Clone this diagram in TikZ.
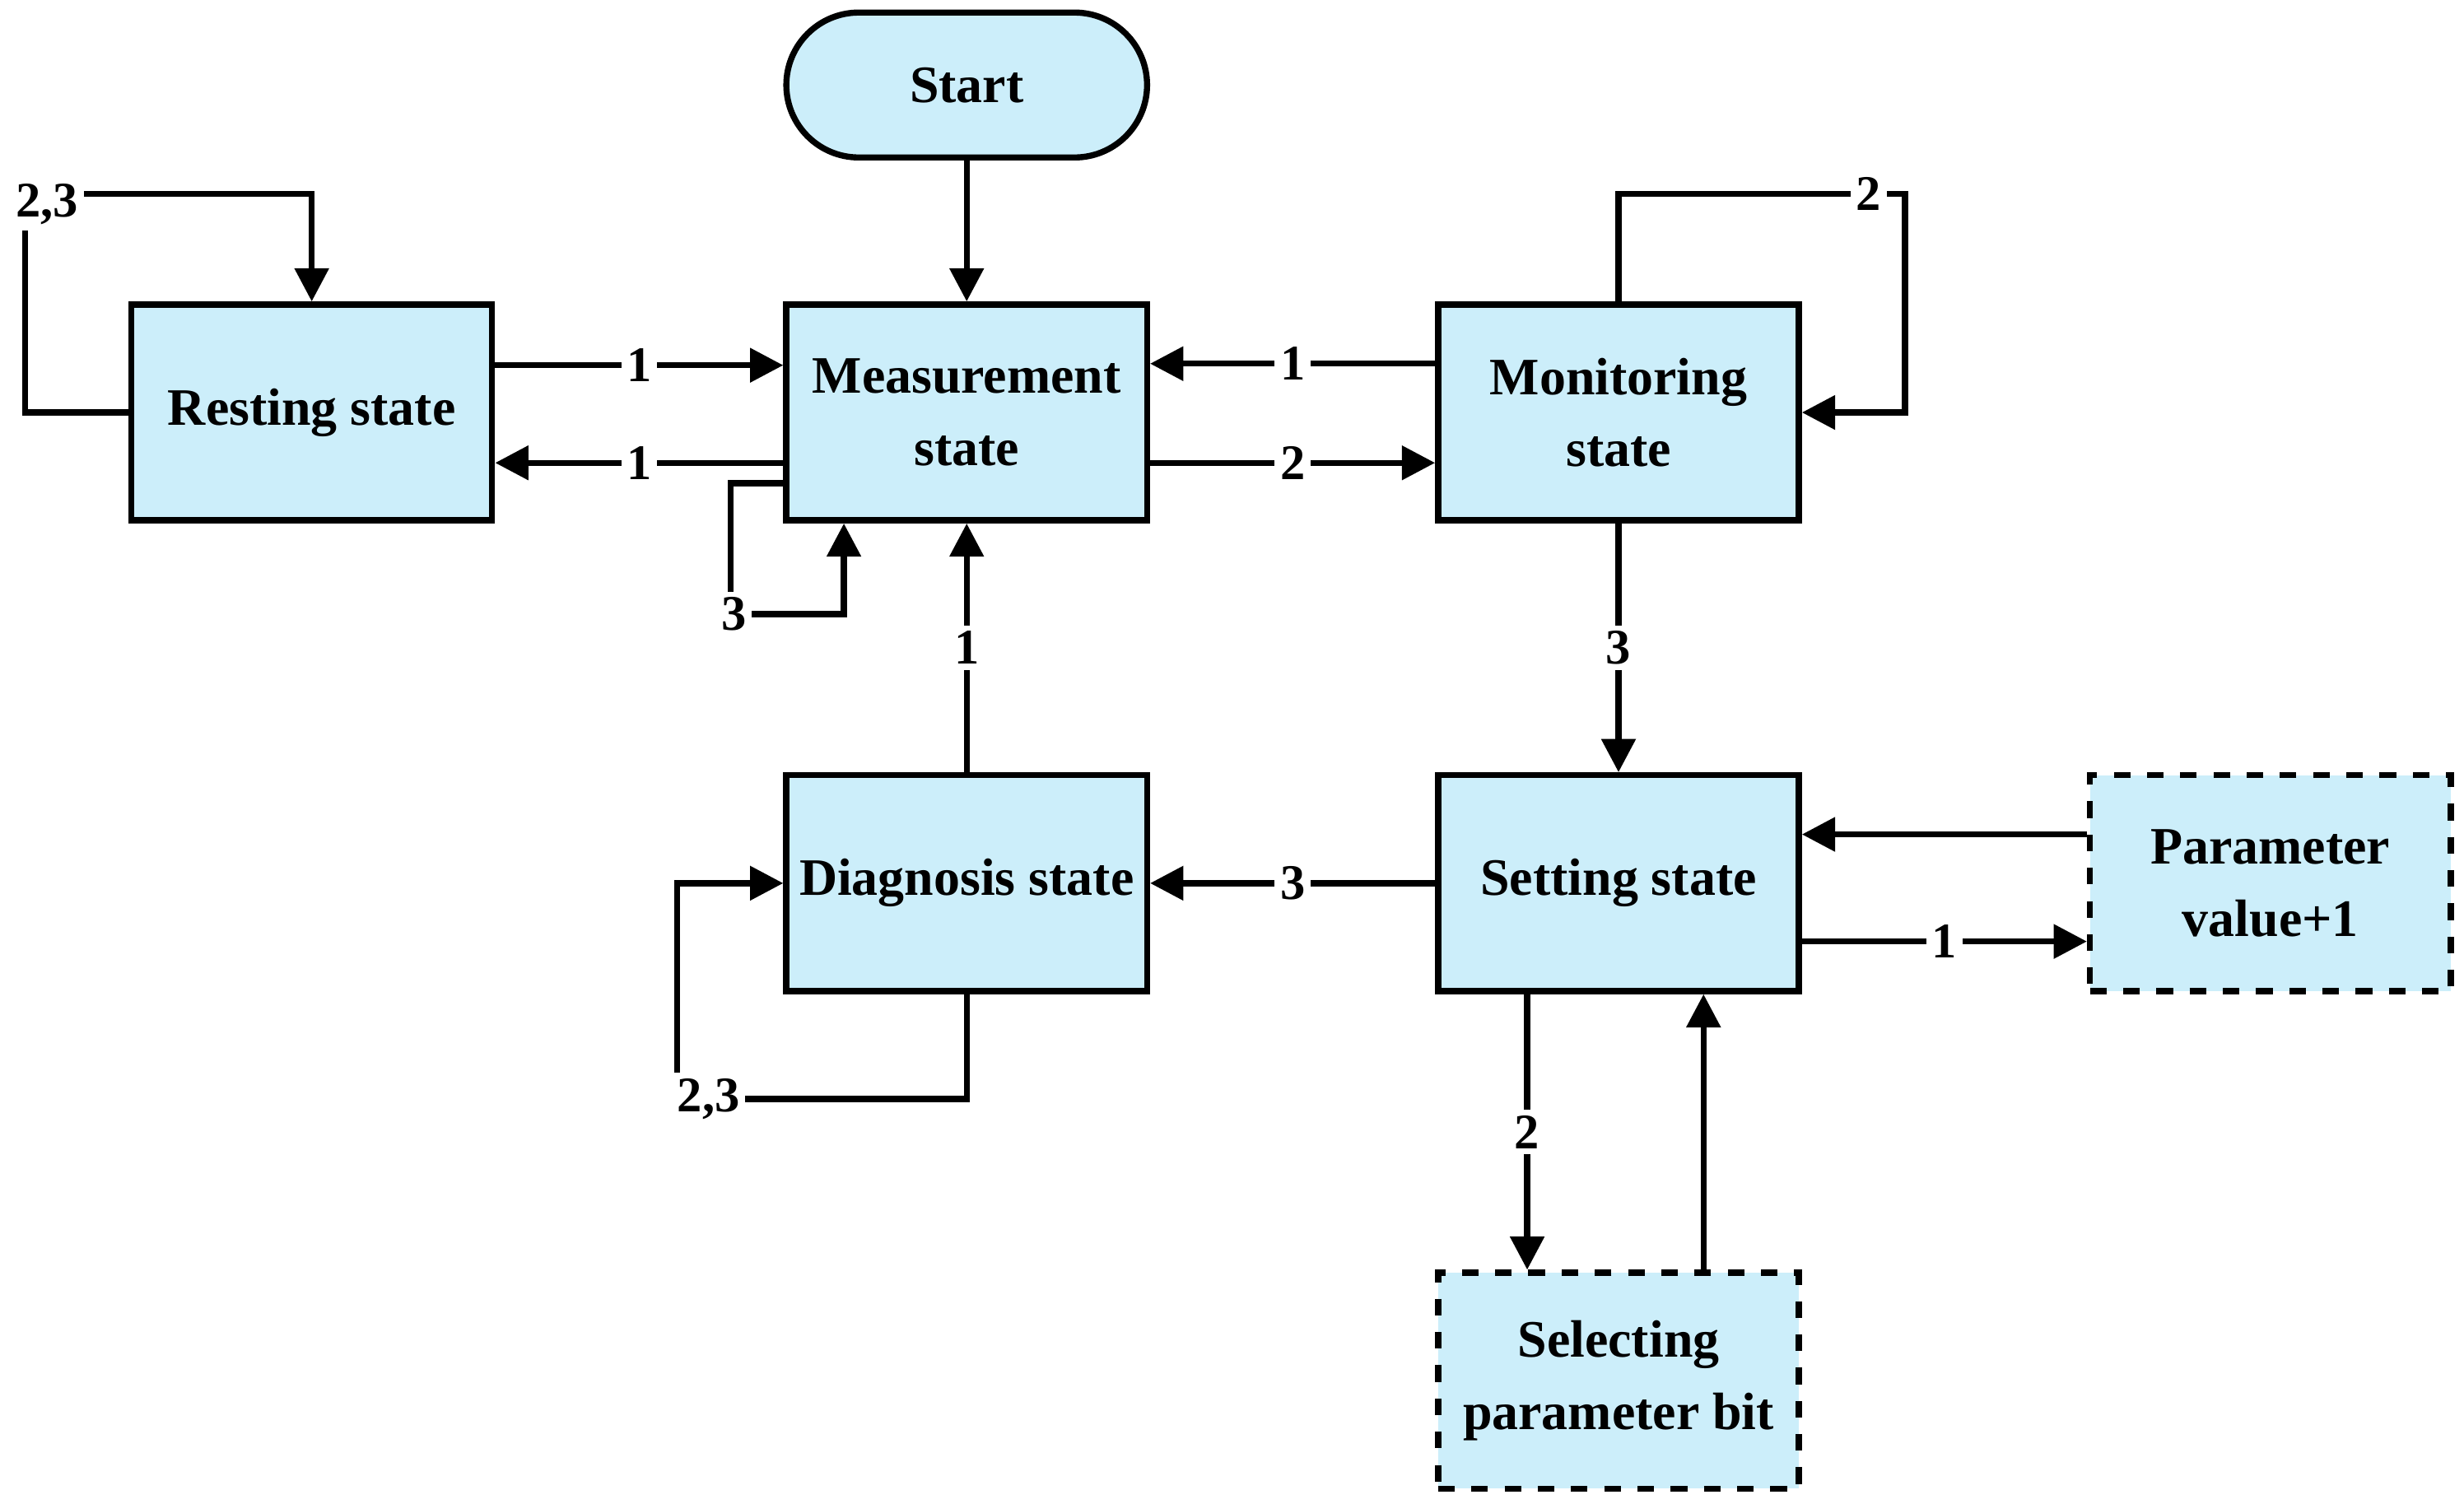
\documentclass[tikz,border=0pt]{standalone}
\usepackage{fontspec}
\setmainfont{Liberation Serif}
\usetikzlibrary{arrows.meta}
\definecolor{boxblue}{RGB}{204,238,250}
\tikzset{
  state/.style={draw, fill=boxblue, line width=1.1pt, minimum width=2.29cm, minimum height=1.37cm,
    align=center, font=\fontsize{9.5}{13}\selectfont\bfseries, inner sep=1pt},
  dashstate/.style={state, dashed},
  link/.style={line width=1.1pt, -{Triangle[length=6pt,width=6pt]}},
  lbl/.style={fill=white, inner sep=1pt, font=\fontsize{9}{11}\selectfont\bfseries}
}
\begin{document}
\begin{tikzpicture}[x=0.01cm, y=-0.01cm]
\useasboundingbox (0,0) rectangle (1565,955);

\node[state, minimum height=0.92cm, rounded corners=0.46cm] (start) at (614,54) {Start};
\node[state] (rest) at (198,262) {Resting state};
\node[state] (meas) at (614,262) {Measurement\\state};
\node[state] (mon) at (1028,262) {Monitoring\\state};
\node[state] (diag) at (614,561) {Diagnosis state};
\node[state] (set) at (1028,561) {Setting state};
\node[dashstate] (par) at (1442,561) {Parameter\\value+1};
\node[dashstate] (sel) at (1028,877) {Selecting\\parameter bit};

% main links
\draw[link] (start) -- (meas);
\draw[link] (rest.east |- 0,232) -- node[lbl] {1} (meas.west |- 0,232);
\draw[link] (meas.west |- 0,294) -- node[lbl] {1} (rest.east |- 0,294);
\draw[link] (mon.west |- 0,231) -- node[lbl] {1} (meas.east |- 0,231);
\draw[link] (meas.east |- 0,294) -- node[lbl] {2} (mon.west |- 0,294);
\draw[link] (mon) -- node[lbl] {3} (set);
\draw[link] (set) -- node[lbl] {3} (diag);
\draw[link] (diag) -- node[lbl] {1} (meas);
\draw[link] (par.west |- 0,530) -- (set.east |- 0,530);
\draw[link] (set.east |- 0,598) -- node[lbl] {1} (par.west |- 0,598);
\draw[link] (set.south -| 970,0) -- node[lbl] {2} (sel.north -| 970,0);
\draw[link] (sel.north -| 1082,0) -- (set.south -| 1082,0);

% self loops
\draw[link] (rest.west) -- (16,262) -- (16,123) -- (rest.north |- 0,123) -- (rest.north);
\node[lbl] at (30,130) {2,3};
\draw[link] (meas.west |- 0,307) -- (464,307) -- (464,390) -- (536,390) -- (meas.south -| 536,0);
\node[lbl] at (466,390) {3};
\draw[link] (mon.north) -- (1028,123) -- (1210,123) -- (1210,262) -- (mon.east);
\node[lbl] at (1187,123) {2};
\draw[link] (diag.south) -- (614,698) -- (430,698) -- (430,561) -- (diag.west);
\node[lbl] at (450,698) {2,3};
\end{tikzpicture}
\end{document}
